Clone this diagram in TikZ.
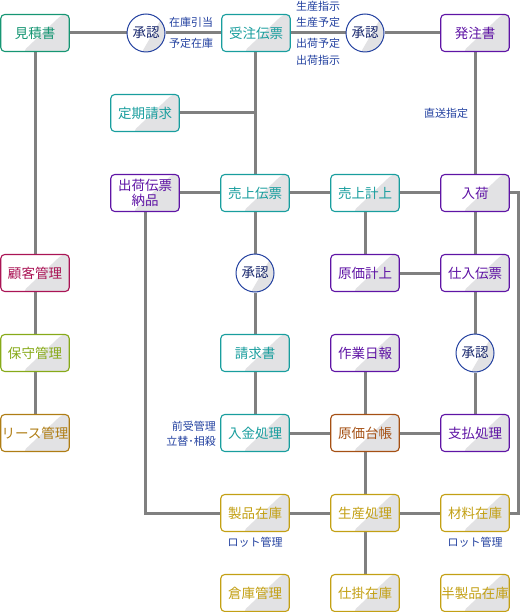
\documentclass[tikz,border=0pt]{standalone}
\usepackage{fontspec}
\setmainfont{Noto Sans CJK JP}
\usepackage{tikz}
\usetikzlibrary{backgrounds}

\definecolor{cgreen}{RGB}{22,150,115}
\definecolor{cteal}{RGB}{25,158,158}
\definecolor{cpurple}{RGB}{95,20,165}
\definecolor{ccrimson}{RGB}{170,20,85}
\definecolor{colive}{RGB}{135,170,25}
\definecolor{cochre}{RGB}{175,125,20}
\definecolor{cbrown}{RGB}{165,80,20}
\definecolor{cgold}{RGB}{195,160,20}
\definecolor{cblue}{RGB}{35,65,160}
\definecolor{cnavy}{RGB}{25,40,110}
\definecolor{boxgray}{RGB}{226,226,228}
\definecolor{linegray}{RGB}{128,128,128}

\begin{document}
\begin{tikzpicture}[x=1pt, y=-1pt,
  card/.style={draw=#1, text=#1, fill=white, rounded corners=4pt, line width=1.1pt,
    minimum width=68.5pt, minimum height=37pt, inner sep=0pt, align=center,
    font=\fontsize{13.5}{15}\selectfont,
    path picture={\fill[boxgray] ([xshift=-12pt]path picture bounding box.south)
      -- ([xshift=27pt]path picture bounding box.north)
      -- (path picture bounding box.north east)
      -- (path picture bounding box.south east) -- cycle;}},
  seal/.style={circle, draw=cblue, line width=1pt, fill=white, minimum size=38pt,
    inner sep=0pt, text=cnavy, font=\fontsize{13.5}{15}\selectfont,
    path picture={\fill[boxgray] ([xshift=-4pt]path picture bounding box.south)
      -- ([xshift=18pt]path picture bounding box.north)
      -- (path picture bounding box.north east)
      -- (path picture bounding box.south east) -- cycle;}},
  note/.style={text=cblue, inner sep=0pt, font=\fontsize{11}{12}\selectfont},
  conn/.style={draw=linegray, line width=3pt}]
  \useasboundingbox (0,0) rectangle (520,612);
  \node[card=cgreen] (mitsu) at (35,33) {見積書};
  \node[seal] (shonin1) at (146,33) {承認};
  \node[card=cteal] (juchu) at (256,33) {受注伝票};
  \node[seal] (shonin2) at (365,33) {承認};
  \node[card=cpurple] (hatchu) at (475,33) {発注書};
  \node[card=cteal] (teiki) at (145,113) {定期請求};
  \node[card=cpurple] (shukka) at (145,193) {出荷伝票\\納品};
  \node[card=cteal] (uriden) at (255,193) {売上伝票};
  \node[card=cteal] (urikei) at (365,193) {売上計上};
  \node[card=cpurple] (nyuka) at (475,193) {入荷};
  \node[card=ccrimson] (kokyaku) at (35,273) {顧客管理};
  \node[seal] (shonin3) at (255,273) {承認};
  \node[card=cpurple] (genka) at (365,273) {原価計上};
  \node[card=cpurple] (shiire) at (475,273) {仕入伝票};
  \node[card=colive] (hoshu) at (35,353) {保守管理};
  \node[card=cteal] (seikyu) at (255,353) {請求書};
  \node[card=cpurple] (sagyo) at (365,353) {作業日報};
  \node[seal] (shonin4) at (475,353) {承認};
  \node[card=cochre] (lease) at (35,433) {リース管理};
  \node[card=cteal] (nyukin) at (255,433) {入金処理};
  \node[card=cbrown] (daicho) at (365,433) {原価台帳};
  \node[card=cpurple] (shiharai) at (475,433) {支払処理};
  \node[card=cgold] (seihin) at (255,513) {製品在庫};
  \node[card=cgold] (seisan) at (365,513) {生産処理};
  \node[card=cgold] (zairyo) at (475,513) {材料在庫};
  \node[card=cgold] (soko) at (255,593) {倉庫管理};
  \node[card=cgold] (shikake) at (365,593) {仕掛在庫};
  \node[card=cgold] (hanseihin) at (475,593) {半製品在庫};
  \node[note] (hikiate) at (191,22) {在庫引当};
  \node[note] (yotei) at (191,43) {予定在庫};
  \node[note] (seisanshiji) at (318,6) {生産指示};
  \node[note] (seisanyotei) at (318,22) {生産予定};
  \node[note] (shukkayotei) at (318,43) {出荷予定};
  \node[note] (shukkashiji) at (318,60) {出荷指示};
  \node[note] (chokuso) at (446,113) {直送指定};
  \node[note, anchor=east] (maeuke) at (216,426) {前受管理};
  \node[note, anchor=east] (tatekae) at (216,441) {立替･相殺};
  \node[note] (lot1) at (255,542) {ロット管理};
  \node[note] (lot2) at (475,542) {ロット管理};
  \coordinate (edge) at (518,193);
  \begin{scope}[on background layer]
    \draw[conn] (mitsu) -- (shonin1) -- (juchu) -- (shonin2) -- (hatchu);
    \draw[conn] (mitsu) -- (kokyaku) -- (hoshu) -- (lease);
    \draw[conn] (juchu.south -| uriden) -- (uriden);
    \draw[conn] (teiki) -- (teiki -| uriden);
    \draw[conn] (hatchu) -- (nyuka) -- (shiire) -- (shonin4) -- (shiharai);
    \draw[conn] (shukka) -- (uriden) -- (urikei) -- (nyuka) -- (edge) |- (zairyo);
    \draw[conn] (uriden) -- (shonin3) -- (seikyu) -- (nyukin);
    \draw[conn] (urikei) -- (genka) -- (shiire);
    \draw[conn] (sagyo) -- (daicho) -- (seisan) -- (shikake);
    \draw[conn] (nyukin) -- (daicho) -- (shiharai);
    \draw[conn] (shukka) |- (seihin) -- (seisan) -- (zairyo);
  \end{scope}
\end{tikzpicture}
\end{document}
